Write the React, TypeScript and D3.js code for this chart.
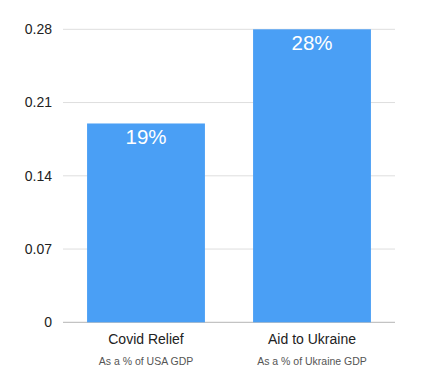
import React from "react";
import * as d3 from "d3";

const categories = ["Covid Relief", "Aid to Ukraine"];
const subtitles = ["As a % of USA GDP", "As a % of Ukraine GDP"];
const values = [0.19, 0.28];
const valueLabels = ["19%", "28%"];
const yTicks = [0, 0.07, 0.14, 0.21, 0.28];
const yTickLabels = ["0", "0.07", "0.14", "0.21", "0.28"];

const W = 426;
const H = 381;
const font = "Helvetica, Arial, 'Liberation Sans', sans-serif";

export default function App() {
  const x = d3.scaleBand<string>().domain(categories).range([63, 395]).paddingInner(0.29).paddingOuter(0.145);
  const y = d3.scaleLinear().domain([0, 0.28]).range([322.3, 29.3]);
  return (
    <svg width={W} height={H} style={{ position: "absolute", left: 0, top: 0, background: "#fff" }} fontFamily={font}>
      {yTicks.map((t, i) => (
        <g key={i}>
          <line x1={63} x2={395} y1={y(t)} y2={y(t)} stroke={t === 0 ? "#b5b5b5" : "#dedede"} strokeWidth={1} />
          <text x={52} y={y(t)} dy="0.35em" textAnchor="end" fontSize={14} fill="#222">{yTickLabels[i]}</text>
        </g>
      ))}
      {categories.map((c, i) => (
        <g key={c}>
          <rect x={x(c)} y={y(values[i])} width={x.bandwidth()} height={y(0) - y(values[i])} fill="#4a9ff5" />
          <text x={x(c)! + x.bandwidth() / 2} y={y(values[i]) + 21} textAnchor="middle" fontSize={20.5} fill="#fff">{valueLabels[i]}</text>
          <text x={x(c)! + x.bandwidth() / 2} y={344} textAnchor="middle" fontSize={14} fill="#222">{c}</text>
          <text x={x(c)! + x.bandwidth() / 2} y={365} textAnchor="middle" fontSize={10.5} fill="#555">{subtitles[i]}</text>
        </g>
      ))}
    </svg>
  );
}
